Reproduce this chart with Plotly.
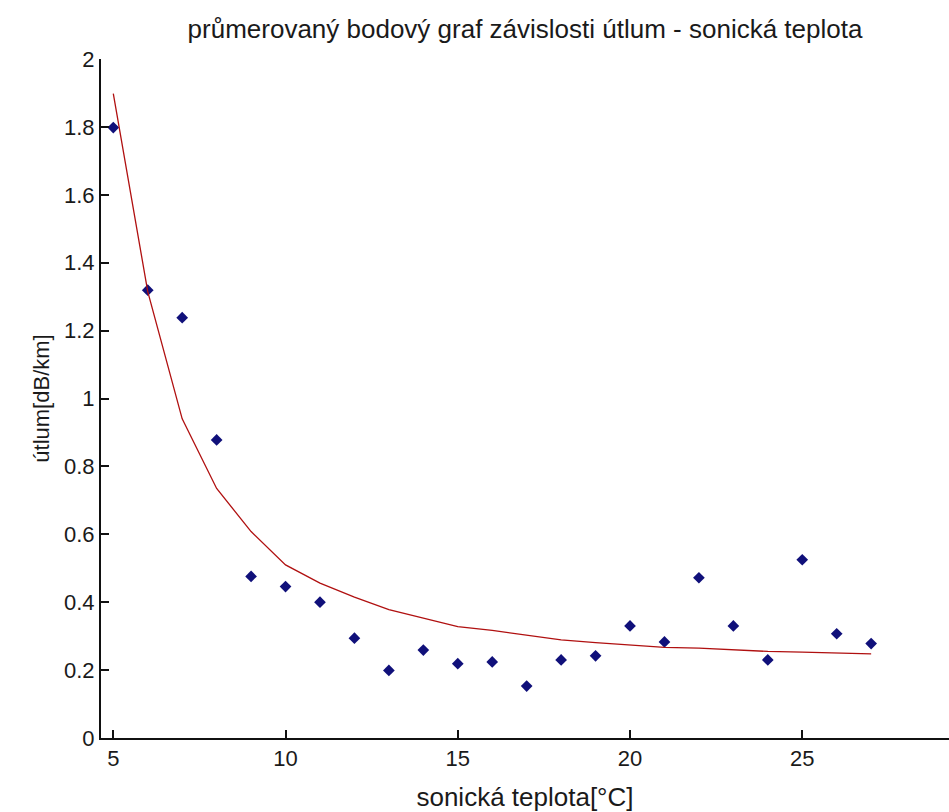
import plotly.graph_objects as go

# measured points
temp = [5, 6, 7, 8, 9, 10, 11, 12, 13, 14, 15, 16, 17, 18, 19, 20, 21, 22, 23, 24, 25, 26, 27]
atten = [1.798, 1.319, 1.238, 0.878, 0.476, 0.446, 0.400, 0.294, 0.199, 0.259, 0.219,
         0.224, 0.153, 0.230, 0.242, 0.330, 0.283, 0.472, 0.330, 0.230, 0.525, 0.307, 0.278]

# fitted curve
fit_x = [5, 6, 7, 8, 9, 10, 11, 12, 13, 14, 15, 16, 17, 18, 19, 20, 21, 22, 23, 24, 25, 26, 27]
fit_y = [1.898, 1.315, 0.940, 0.735, 0.608, 0.510, 0.456, 0.415, 0.378, 0.353, 0.328,
         0.317, 0.304, 0.289, 0.281, 0.273, 0.267, 0.265, 0.260, 0.255, 0.253, 0.250, 0.248]

x_ticks = [5, 10, 15, 20, 25]
y_ticks = [0, 0.2, 0.4, 0.6, 0.8, 1, 1.2, 1.4, 1.6, 1.8, 2]
y_tick_text = ["0", "0.2", "0.4", "0.6", "0.8", "1", "1.2", "1.4", "1.6", "1.8", "2"]

font_family = "Liberation Sans, Arial, sans-serif"
txt = "#1a1a1a"

W, H = 949, 812

fig = go.Figure()
fig.add_trace(go.Scatter(x=temp, y=atten, mode="markers",
                         marker=dict(symbol="diamond", size=9, color="#10107a"),
                         showlegend=False, hoverinfo="skip", cliponaxis=False))
fig.add_trace(go.Scatter(x=fit_x, y=fit_y, mode="lines",
                         line=dict(color="#b01010", width=1.3),
                         showlegend=False, hoverinfo="skip"))

fig.update_layout(
    width=W, height=H,
    margin=dict(l=101, r=0, t=59, b=74, autoexpand=False),
    paper_bgcolor="white", plot_bgcolor="white",
    font=dict(family=font_family, size=22, color=txt),
    title=dict(text="průmerovaný bodový graf závislosti útlum - sonická teplota",
               x=0.5, xref="paper", xanchor="center",
               y=1 - 29 / H, yref="container", yanchor="middle",
               font=dict(size=26, color=txt)),
)
fig.update_xaxes(range=[4.643, 29.26], tickvals=x_ticks, ticktext=[str(v) for v in x_ticks],
                 automargin=False,
                 showline=True, linecolor="#111", linewidth=2,
                 ticks="inside", ticklen=8, tickwidth=1.5, tickcolor="#111",
                 showgrid=False, zeroline=False,
                 tickfont=dict(size=22, color=txt),
                 title=dict(text="sonická teplota[°C]", standoff=20, font=dict(size=26, color=txt)))
fig.update_yaxes(range=[0, 2], tickvals=y_ticks, ticktext=y_tick_text,
                 automargin=False,
                 showline=True, linecolor="#111", linewidth=2,
                 ticks="inside", ticklen=8, tickwidth=1.5, tickcolor="#111",
                 showgrid=False, zeroline=False,
                 tickfont=dict(size=22, color=txt),
                 title=dict(text="útlum[dB/km]", standoff=8, font=dict(size=22, color=txt)))

fig.write_html("out.html", config={"displayModeBar": False},
               post_script="document.body.style.margin='0';document.body.style.overflow='hidden';")
